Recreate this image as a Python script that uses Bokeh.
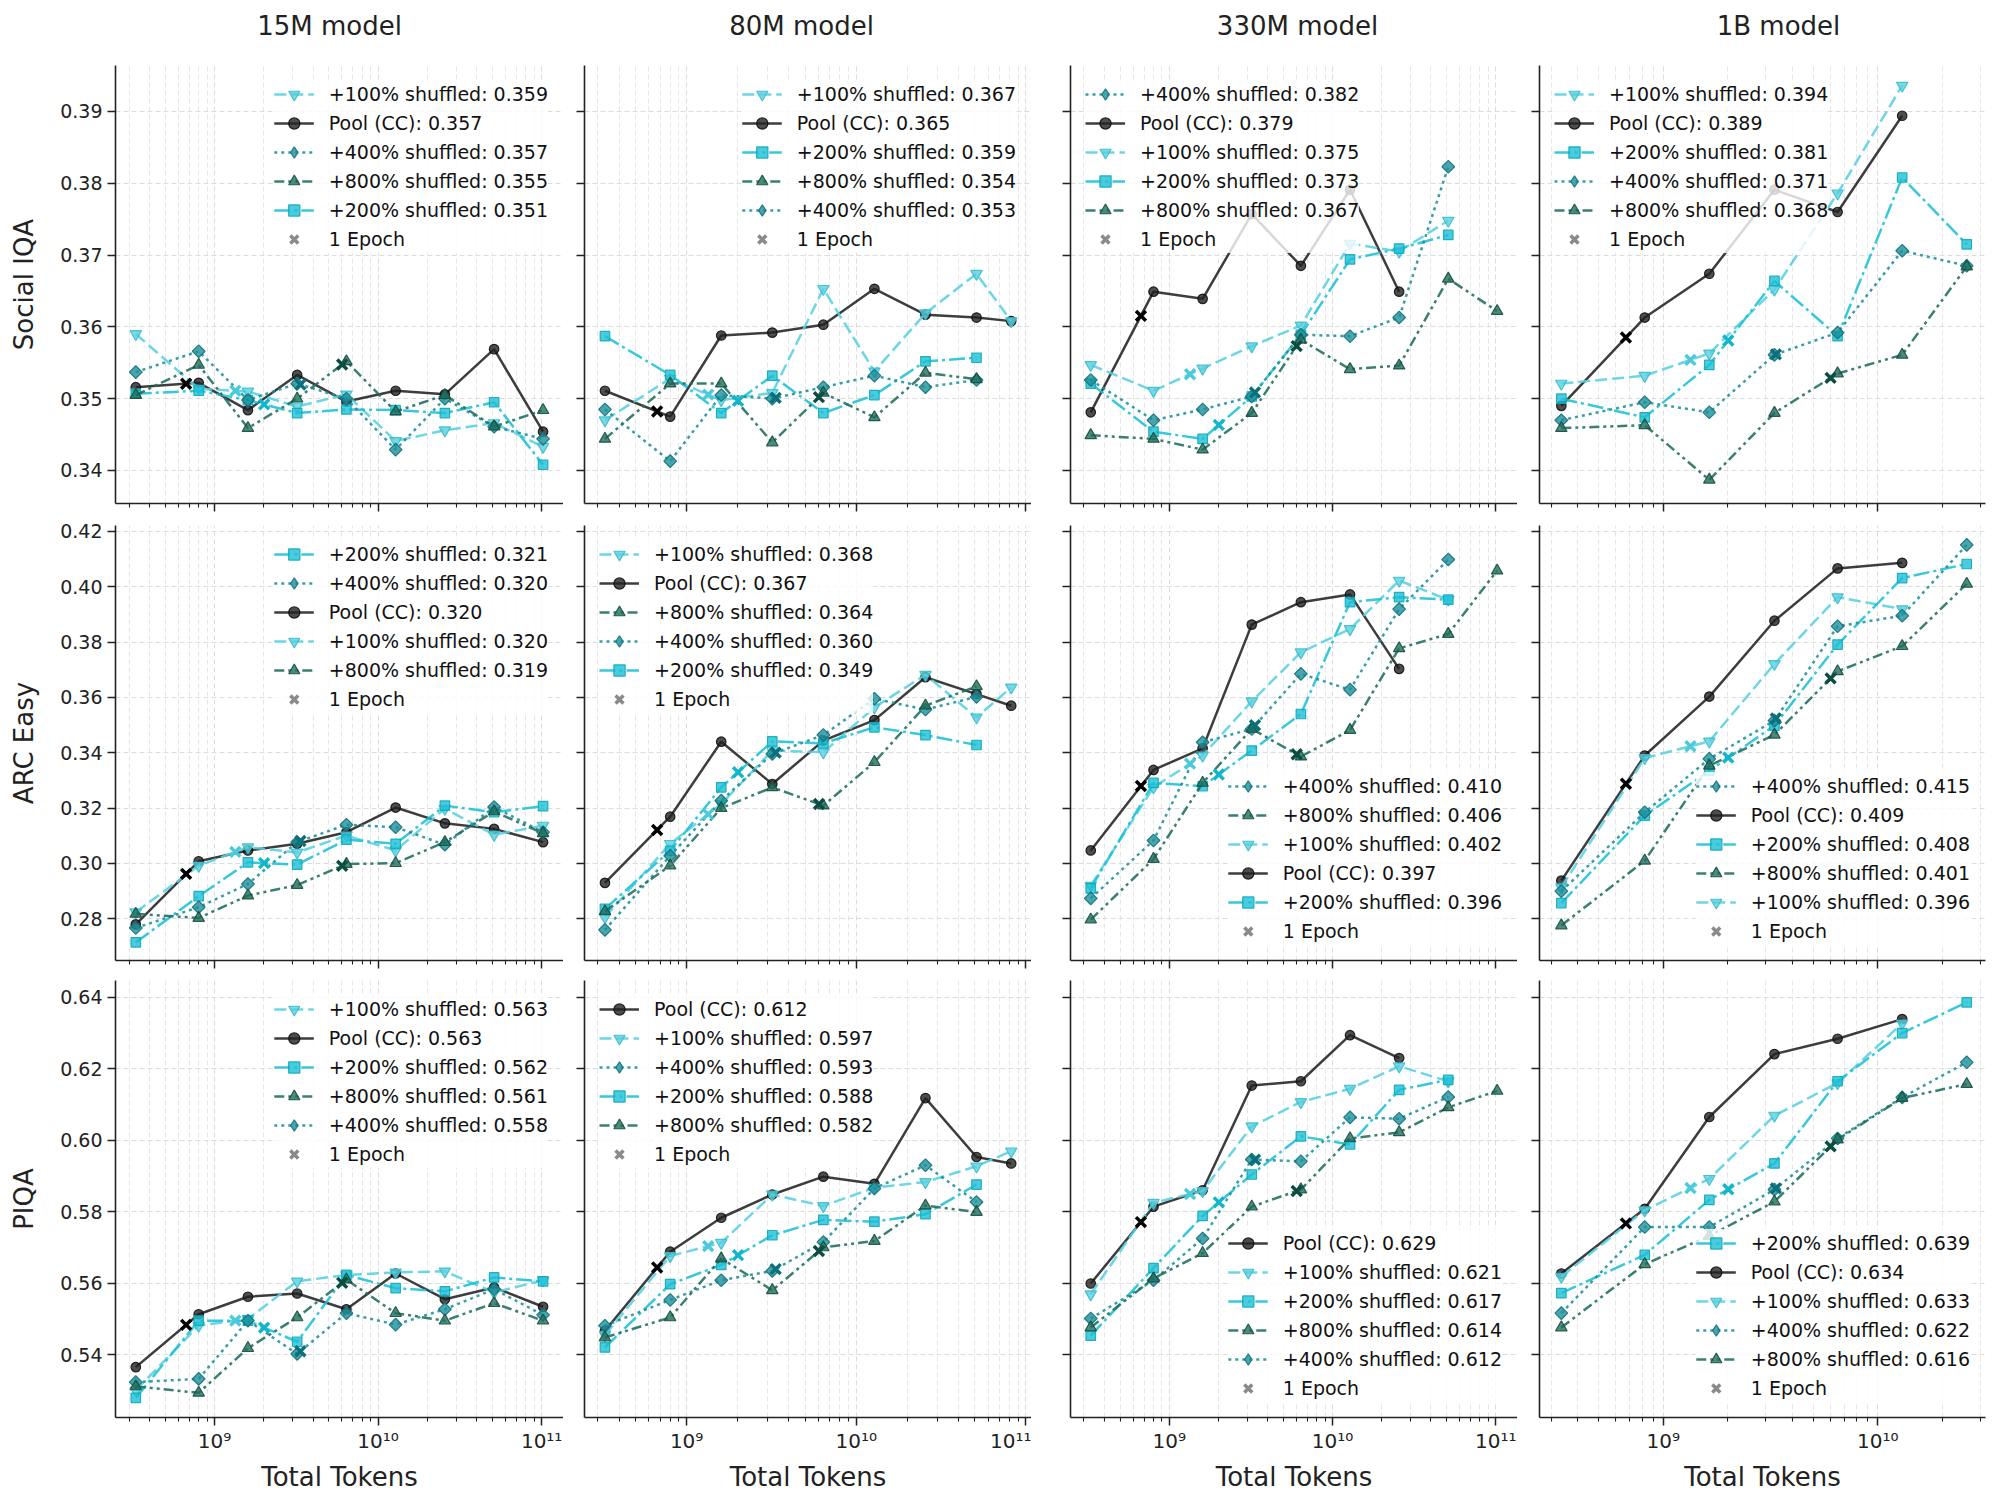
import numpy as np
from bokeh.plotting import figure
from bokeh.layouts import column, row
from bokeh.models import (Range1d, FixedTicker, PrintfTickFormatter, CustomJSTickFormatter,
                          Legend, LegendItem)
from bokeh.core.properties import value
from bokeh.embed import file_html
from bokeh.resources import INLINE

FONT = "DejaVu Sans"

MODELS = ["15M model", "80M model", "330M model", "1B model"]
TASKS = ["Social IQA", "ARC Easy", "PIQA"]
SERIES = ["Pool (CC)", "+100% shuffled", "+200% shuffled", "+400% shuffled", "+800% shuffled"]

# total training tokens per run, one list per model size
tokens_15m = [3.3e8, 8.0e8, 1.6e9, 3.2e9, 6.4e9, 1.28e10, 2.56e10, 5.12e10, 1.02e11]
tokens_80m = [3.3e8, 8.0e8, 1.6e9, 3.2e9, 6.4e9, 1.28e10, 2.56e10, 5.12e10, 8.2e10]
tokens_330m = [3.3e8, 8.0e8, 1.6e9, 3.2e9, 6.4e9, 1.28e10, 2.56e10, 5.12e10, 1.02e11]
tokens_1b = [3.35e8, 8.2e8, 1.64e9, 3.3e9, 6.5e9, 1.3e10, 2.6e10]

# size of the unique pool; shuffled mixes add 1x, 2x, 4x, 8x on top
pool_tokens = 6.7e8
epoch_multiplier = [1, 2, 3, 5, 9]

# ---- Social IQA ----
siqa_15m = {
    "Pool (CC)":      [0.3516, 0.3522, 0.3484, 0.3533, 0.3496, 0.3511, 0.3506, 0.3569, 0.3454],
    "+100% shuffled": [0.3590, 0.3514, 0.3510, 0.3489, 0.3506, 0.3441, 0.3456, 0.3466, 0.3433],
    "+200% shuffled": [0.3507, 0.3511, 0.3498, 0.3480, 0.3485, 0.3484, 0.3480, 0.3495, 0.3408],
    "+400% shuffled": [0.3537, 0.3566, 0.3498, 0.3521, 0.3500, 0.3429, 0.3500, 0.3461, 0.3444],
    "+800% shuffled": [0.3505, 0.3547, 0.3459, 0.3500, 0.3552, 0.3482, 0.3505, 0.3461, 0.3484],
}
siqa_80m = {
    "Pool (CC)":      [0.3511, 0.3475, 0.3588, 0.3592, 0.3603, 0.3653, 0.3617, 0.3613, 0.3608],
    "+100% shuffled": [0.3470, 0.3528, 0.3498, 0.3508, 0.3653, 0.3538, 0.3619, 0.3674, 0.3608],
    "+200% shuffled": [0.3587, 0.3533, 0.3480, 0.3532, 0.3480, 0.3505, 0.3552, 0.3557],
    "+400% shuffled": [0.3485, 0.3413, 0.3505, 0.3500, 0.3516, 0.3532, 0.3516, 0.3526],
    "+800% shuffled": [0.3444, 0.3521, 0.3521, 0.3439, 0.3508, 0.3474, 0.3536, 0.3527],
}
siqa_330m = {
    "Pool (CC)":      [0.3481, 0.3649, 0.3639, 0.3757, 0.3685, 0.3791, 0.3649],
    "+100% shuffled": [0.3547, 0.3511, 0.3542, 0.3573, 0.3602, 0.3716, 0.3705, 0.3748],
    "+200% shuffled": [0.3521, 0.3454, 0.3444, 0.3503, 0.3589, 0.3694, 0.3709, 0.3728],
    "+400% shuffled": [0.3526, 0.3470, 0.3485, 0.3503, 0.3589, 0.3587, 0.3613, 0.3823],
    "+800% shuffled": [0.3449, 0.3444, 0.3429, 0.3480, 0.3582, 0.3541, 0.3546, 0.3667, 0.3622],
}
siqa_1b = {
    "Pool (CC)":      [0.3490, 0.3613, 0.3674, 0.3791, 0.3760, 0.3894],
    "+100% shuffled": [0.3521, 0.3532, 0.3563, 0.3652, 0.3786, 0.3936],
    "+200% shuffled": [0.3500, 0.3474, 0.3547, 0.3664, 0.3587, 0.3808, 0.3715],
    "+400% shuffled": [0.3470, 0.3495, 0.3481, 0.3561, 0.3592, 0.3706, 0.3685],
    "+800% shuffled": [0.3459, 0.3463, 0.3387, 0.3480, 0.3535, 0.3561, 0.3684],
}

# ---- ARC Easy ----
arc_15m = {
    "Pool (CC)":      [0.2780, 0.3008, 0.3047, 0.3071, 0.3113, 0.3202, 0.3145, 0.3125, 0.3077],
    "+100% shuffled": [0.2824, 0.2992, 0.3059, 0.3040, 0.3101, 0.3047, 0.3198, 0.3104, 0.3137],
    "+200% shuffled": [0.2715, 0.2882, 0.3004, 0.2996, 0.3086, 0.3071, 0.3209, 0.3185, 0.3207],
    "+400% shuffled": [0.2767, 0.2842, 0.2926, 0.3077, 0.3140, 0.3131, 0.3068, 0.3204, 0.3113],
    "+800% shuffled": [0.2818, 0.2803, 0.2884, 0.2922, 0.2998, 0.3001, 0.3077, 0.3188, 0.3109],
}
arc_80m = {
    "Pool (CC)":      [0.2930, 0.3169, 0.3440, 0.3287, 0.3444, 0.3518, 0.3673, 0.3612, 0.3570],
    "+100% shuffled": [0.2806, 0.3071, 0.3215, 0.3408, 0.3402, 0.3564, 0.3682, 0.3528, 0.3636],
    "+200% shuffled": [0.2836, 0.3046, 0.3275, 0.3441, 0.3434, 0.3492, 0.3464, 0.3428],
    "+400% shuffled": [0.2760, 0.3028, 0.3227, 0.3396, 0.3464, 0.3595, 0.3556, 0.3602],
    "+800% shuffled": [0.2827, 0.2992, 0.3200, 0.3275, 0.3209, 0.3366, 0.3570, 0.3640],
}
arc_330m = {
    "Pool (CC)":      [0.3047, 0.3338, 0.3416, 0.3863, 0.3944, 0.3972, 0.3703],
    "+100% shuffled": [0.2920, 0.3275, 0.3390, 0.3586, 0.3763, 0.3847, 0.4022, 0.3953],
    "+200% shuffled": [0.2910, 0.3291, 0.3279, 0.3408, 0.3540, 0.3944, 0.3962, 0.3953],
    "+400% shuffled": [0.2874, 0.3083, 0.3438, 0.3486, 0.3685, 0.3628, 0.3919, 0.4098],
    "+800% shuffled": [0.2797, 0.3016, 0.3291, 0.3486, 0.3386, 0.3482, 0.3777, 0.3829, 0.4058],
}
arc_1b = {
    "Pool (CC)":      [0.2938, 0.3390, 0.3603, 0.3877, 0.4066, 0.4086],
    "+100% shuffled": [0.2914, 0.3381, 0.3441, 0.3721, 0.3962, 0.3919],
    "+200% shuffled": [0.2857, 0.3173, 0.3335, 0.3498, 0.3791, 0.4031, 0.4082],
    "+400% shuffled": [0.2900, 0.3185, 0.3378, 0.3516, 0.3857, 0.3895, 0.4151],
    "+800% shuffled": [0.2776, 0.3010, 0.3353, 0.3465, 0.3694, 0.3785, 0.4010],
}

# ---- PIQA ----
piqa_15m = {
    "Pool (CC)":      [0.5365, 0.5513, 0.5562, 0.5571, 0.5527, 0.5627, 0.5555, 0.5588, 0.5534],
    "+100% shuffled": [0.5300, 0.5481, 0.5500, 0.5605, 0.5623, 0.5630, 0.5633, 0.5574, 0.5608],
    "+200% shuffled": [0.5279, 0.5495, 0.5495, 0.5436, 0.5623, 0.5586, 0.5577, 0.5616, 0.5605],
    "+400% shuffled": [0.5323, 0.5332, 0.5495, 0.5402, 0.5516, 0.5484, 0.5527, 0.5583, 0.5511],
    "+800% shuffled": [0.5311, 0.5293, 0.5418, 0.5504, 0.5610, 0.5516, 0.5495, 0.5544, 0.5495],
}
piqa_80m = {
    "Pool (CC)":      [0.5467, 0.5688, 0.5783, 0.5848, 0.5898, 0.5878, 0.6118, 0.5953, 0.5935],
    "+100% shuffled": [0.5455, 0.5676, 0.5713, 0.5848, 0.5816, 0.5867, 0.5883, 0.5927, 0.5969],
    "+200% shuffled": [0.5420, 0.5597, 0.5651, 0.5734, 0.5777, 0.5772, 0.5793, 0.5876],
    "+400% shuffled": [0.5481, 0.5553, 0.5608, 0.5634, 0.5715, 0.5865, 0.5930, 0.5827],
    "+800% shuffled": [0.5448, 0.5504, 0.5669, 0.5580, 0.5700, 0.5718, 0.5817, 0.5799],
}
piqa_330m = {
    "Pool (CC)":      [0.5599, 0.5814, 0.5860, 0.6153, 0.6165, 0.6294, 0.6230],
    "+100% shuffled": [0.5569, 0.5825, 0.5858, 0.6039, 0.6107, 0.6144, 0.6207, 0.6165],
    "+200% shuffled": [0.5453, 0.5642, 0.5788, 0.5904, 0.6011, 0.5988, 0.6141, 0.6169],
    "+400% shuffled": [0.5501, 0.5608, 0.5725, 0.5946, 0.5941, 0.6064, 0.6060, 0.6121],
    "+800% shuffled": [0.5476, 0.5613, 0.5684, 0.5814, 0.5862, 0.6005, 0.6022, 0.6092, 0.6138],
}
piqa_1b = {
    "Pool (CC)":      [0.5627, 0.5808, 0.6065, 0.6241, 0.6284, 0.6339],
    "+100% shuffled": [0.5618, 0.5804, 0.5892, 0.6069, 0.6160, 0.6327],
    "+200% shuffled": [0.5572, 0.5679, 0.5833, 0.5935, 0.6165, 0.6300, 0.6386],
    "+400% shuffled": [0.5516, 0.5757, 0.5757, 0.5862, 0.6005, 0.6120, 0.6218],
    "+800% shuffled": [0.5476, 0.5653, 0.5732, 0.5828, 0.6002, 0.6118, 0.6157],
}

PANELS = [
    [siqa_15m, siqa_80m, siqa_330m, siqa_1b],
    [arc_15m, arc_80m, arc_330m, arc_1b],
    [piqa_15m, piqa_80m, piqa_330m, piqa_1b],
]
TOKENS = [tokens_15m, tokens_80m, tokens_330m, tokens_1b]

# axis ticks and limits
y_ticks = [
    [0.34, 0.35, 0.36, 0.37, 0.38, 0.39],
    [0.28, 0.30, 0.32, 0.34, 0.36, 0.38, 0.40, 0.42],
    [0.54, 0.56, 0.58, 0.60, 0.62, 0.64],
]
y_limits = [(0.3354, 0.3964), (0.26495, 0.4221), (0.5224, 0.6447)]
x_limits = [(2.48e8, 1.36e11), (2.5e8, 1.08e11), (2.48e8, 1.36e11), (2.65e8, 3.18e10)]
x_major = [1e8, 1e9, 1e10, 1e11]
x_minor = [k * 10.0 ** e for e in range(8, 12) for k in range(2, 10)]

LEGEND_LOC = [
    ["top_right", "top_right", "top_left", "top_left"],
    ["top_right", "top_left", "bottom_right", "bottom_right"],
    ["top_right", "top_left", "bottom_right", "bottom_right"],
]

# the +400% diamond is a square turned 45 degrees on the curves;
# the legend uses Bokeh's own diamond marker
STYLE = {
    "Pool (CC)":      dict(color="#222222", edge="#111111", epoch="#000000", dash="solid",
                           marker="circle", size=9.5, angle=0.0),
    "+100% shuffled": dict(color="#58d0e0", edge="#3cbccc", epoch="#4ccadb", dash="12 5",
                           marker="inverted_triangle", size=11.5, angle=0.0),
    "+200% shuffled": dict(color="#1cc0d6", edge="#12a8bb", epoch="#12b6cb", dash="16 4 3 4",
                           marker="square", size=9.5, angle=0.0),
    "+400% shuffled": dict(color="#1b8f9a", edge="#14727b", epoch="#0b7079", dash="3 4",
                           marker="square", size=9, angle=np.pi / 4),
    "+800% shuffled": dict(color="#1f6d5e", edge="#16503f", epoch="#0b4d41",
                           dash="10 4 3 4 3 4", marker="triangle", size=11.5, angle=0.0),
}

FRAME_W = [448, 447, 447, 446]
BORDER_L = [115, 21, 39, 22]
BORDER_R = [0, 0, 0, 15]
FRAME_H = [438, 435, 437]
BORDER_T = [15, 12, 10]
BORDER_B = [10, 10, 88]
HEADER_H = 50
HEADER_Y = 24.5          # heading middle, px above the bottom of the header strip
HEADER_X = [329, 801, 1297, 1778]

SUPERSCRIPT_JS = """
const sup = {'0':'\u2070','1':'\u00b9','2':'\u00b2','3':'\u00b3','4':'\u2074',
             '5':'\u2075','6':'\u2076','7':'\u2077','8':'\u2078','9':'\u2079','-':'\u207b'};
const e = Math.round(Math.log10(tick));
return '10' + String(e).split('').map(c => sup[c]).join('');
"""


def point_on_line(xs, ys, xq):
    """y of the log-x polyline at xq (where the run passes one epoch)."""
    if xq < xs[0] or xq > xs[-1]:
        return None
    return float(np.interp(np.log10(xq), np.log10(xs), ys))


def make_header():
    total_w = sum(BORDER_L) + sum(FRAME_W) + sum(BORDER_R)
    h = figure(width=total_w, height=HEADER_H, x_range=Range1d(0, total_w),
               y_range=Range1d(0, HEADER_H), min_border=0,
               toolbar_location=None, output_backend="svg",
               background_fill_color="white", border_fill_color="white",
               outline_line_color=None)
    h.axis.visible = False
    h.grid.visible = False
    h.text(x=HEADER_X, y=[HEADER_Y] * len(MODELS), text=MODELS,
           text_align="center", text_baseline="middle",
           text_font=value(FONT), text_font_size=value("26px"), text_color="#222222")
    return h


def make_panel(r, c):
    data = PANELS[r][c]
    xs_all = TOKENS[c]
    p = figure(
        x_axis_type="log",
        x_range=Range1d(*x_limits[c]),
        y_range=Range1d(*y_limits[r]),
        frame_width=FRAME_W[c], frame_height=FRAME_H[r],
        min_border_left=BORDER_L[c], min_border_right=BORDER_R[c],
        min_border_top=BORDER_T[r], min_border_bottom=BORDER_B[r],
        toolbar_location=None, output_backend="svg",
        background_fill_color="white", border_fill_color="white",
        outline_line_color=None,
    )

    # grid
    p.xgrid.grid_line_color = "#dcdcdc"
    p.xgrid.grid_line_dash = "5 3"
    p.xgrid.minor_grid_line_color = "#e6e6e6"
    p.xgrid.minor_grid_line_dash = "5 3"
    p.ygrid.grid_line_color = "#dcdcdc"
    p.ygrid.grid_line_dash = "5 3"

    # axes
    for ax in (p.xaxis[0], p.yaxis[0]):
        ax.axis_line_color = "#222222"
        ax.axis_line_width = 1.6
        ax.major_tick_line_color = "#222222"
        ax.major_tick_line_width = 1.5
        ax.major_tick_out = 8
        ax.major_tick_in = 0
        ax.major_label_text_font = FONT
        ax.major_label_text_font_size = "19px"
        ax.major_label_text_color = "#222222"
        ax.major_label_standoff = 5
        ax.axis_label_text_font = FONT
        ax.axis_label_text_font_size = "26px"
        ax.axis_label_text_font_style = "normal"
        ax.axis_label_text_color = "#222222"

    xa = p.xaxis[0]
    xa.ticker = FixedTicker(ticks=x_major, minor_ticks=x_minor)
    xa.minor_tick_line_color = "#222222"
    xa.minor_tick_line_width = 1.1
    xa.minor_tick_out = 4
    xa.minor_tick_in = 0
    if r == 2:
        xa.formatter = CustomJSTickFormatter(code=SUPERSCRIPT_JS)
        xa.major_label_text_font_size = "20px"
        xa.axis_label = "Total Tokens"
        xa.major_label_standoff = 3
        xa.axis_label_standoff = 6
    else:
        xa.formatter = CustomJSTickFormatter(code="return '';")
        xa.major_label_standoff = 0

    ya = p.yaxis[0]
    ya.ticker = FixedTicker(ticks=y_ticks[r])
    ya.minor_tick_line_color = None
    if c == 0:
        ya.formatter = PrintfTickFormatter(format="%.2f")
        ya.axis_label = TASKS[r]
        ya.axis_label_standoff = 18
    else:
        ya.formatter = CustomJSTickFormatter(code="return '';")
        ya.major_label_standoff = 0

    handles = {}
    peaks = {}
    for name in SERIES:
        ys = data[name]
        xs = xs_all[:len(ys)]
        st = STYLE[name]
        ln = p.line(xs, ys, line_color=st["color"], line_width=2.5, line_alpha=0.88,
                    line_dash=st["dash"])
        sc = p.scatter(xs, ys, marker=st["marker"], size=st["size"], angle=st["angle"],
                       fill_color=st["color"], fill_alpha=0.8,
                       line_color=st["edge"], line_alpha=0.9, line_width=1.2)
        if st["angle"]:
            # legend key marker (single point outside the view)
            sc = p.scatter(x=[1e5], y=[0.0], marker="diamond", size=14,
                           fill_color=st["color"], fill_alpha=0.8,
                           line_color=st["edge"], line_alpha=0.9, line_width=1.2)
        handles[name] = [ln, sc]
        peaks[name] = max(ys)

    # one-epoch markers on each curve
    for name, mult in zip(SERIES, epoch_multiplier):
        ys = data[name]
        xs = xs_all[:len(ys)]
        xq = pool_tokens * mult
        yq = point_on_line(xs, ys, xq)
        if yq is not None:
            p.scatter([xq], [yq], marker="x", size=14, line_color=STYLE[name]["epoch"],
                      line_width=3.5)

    # legend key for the epoch markers (its single point sits outside the view)
    epoch_key = p.scatter(x=[1e5], y=[0.0], marker="x", size=13, line_color="#8a8a8a",
                          line_width=3.5)

    order = sorted(SERIES, key=lambda n: -peaks[n])
    items = [LegendItem(label=f"{n}: {peaks[n]:.3f}", renderers=handles[n]) for n in order]
    items.append(LegendItem(label="1 Epoch", renderers=[epoch_key]))
    legend = Legend(
        items=items, location=LEGEND_LOC[r][c],
        label_text_font=FONT, label_text_font_size="19px", label_text_color="#111111",
        glyph_width=40, glyph_height=28, label_height=28, label_standoff=15,
        spacing=1, padding=8, margin=15,
        background_fill_color="white", background_fill_alpha=0.8,
        border_line_color=None,
    )
    p.add_layout(legend)
    return p


grid_rows = [make_header()]
for r in range(3):
    grid_rows.append(row(*[make_panel(r, c) for c in range(4)], spacing=0))
layout = column(*grid_rows, spacing=0)

open("out.html", "w").write(file_html(layout, INLINE, title="Benchmark accuracy vs. total tokens"))
